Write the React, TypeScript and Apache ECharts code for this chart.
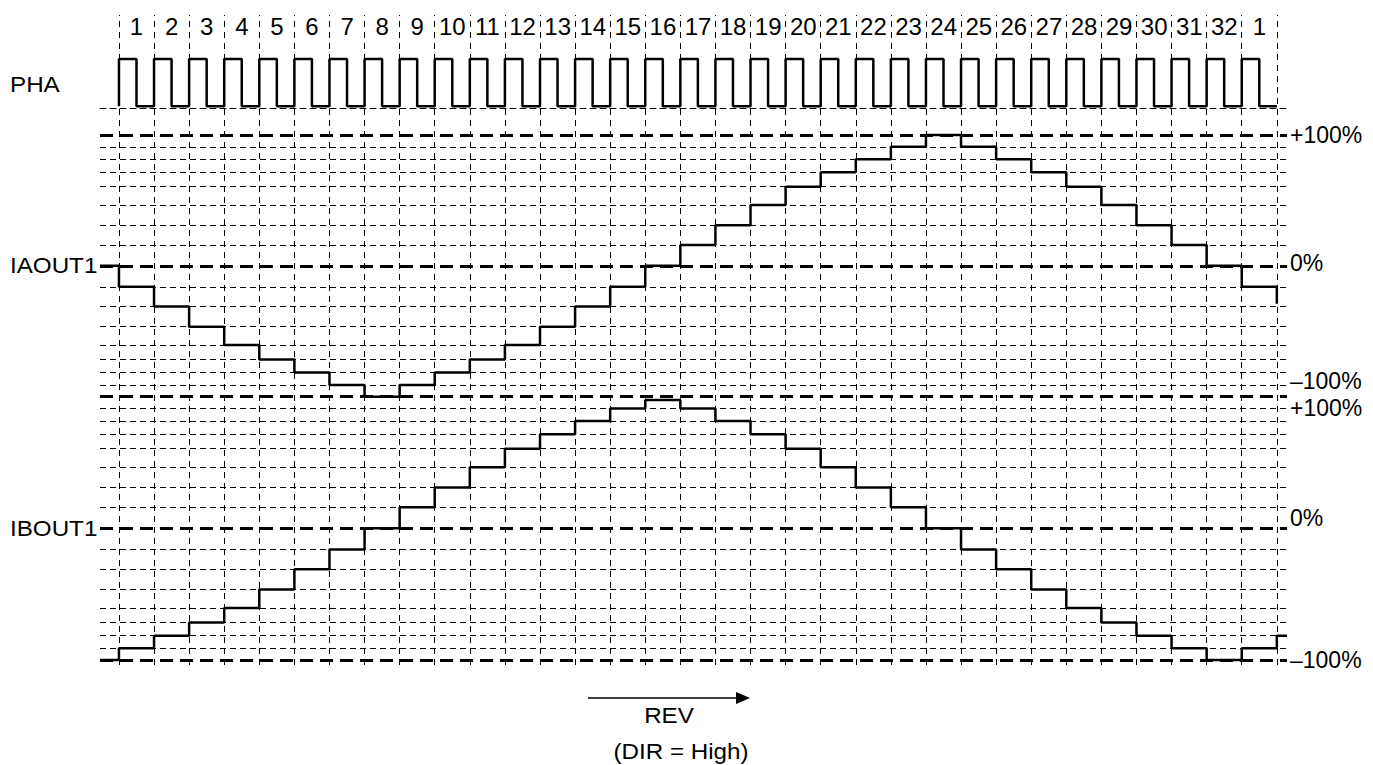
import React, { useEffect, useRef } from "react";
import * as echarts from "echarts";

// ---------- data ----------
const slotLabels = ["1", "2", "3", "4", "5", "6", "7", "8", "9", "10", "11", "12", "13", "14", "15", "16", "17", "18", "19", "20", "21", "22", "23", "24", "25", "26", "27", "28", "29", "30", "31", "32", "1"];
const slotBoundaries = [0, 1, 2, 3, 4, 5, 6, 7, 8, 9, 10, 11, 12, 13, 14, 15, 16, 17, 18, 19, 20, 21, 22, 23, 24, 25, 26, 27, 28, 29, 30, 31, 32, 33];

// PHA level at each half slot (high then low, 33 pulses)
const phaStart = 0;
const phaLevels = [
  1, 0, 1, 0, 1, 0, 1, 0, 1, 0, 1, 0, 1, 0, 1, 0, 1, 0, 1, 0, 1, 0,
  1, 0, 1, 0, 1, 0, 1, 0, 1, 0, 1, 0, 1, 0, 1, 0, 1, 0, 1, 0, 1, 0,
  1, 0, 1, 0, 1, 0, 1, 0, 1, 0, 1, 0, 1, 0, 1, 0, 1, 0, 1, 0, 1, 0,
];
const phaEnd = 0;

// IAOUT1 current (%) in each slot
const iaout1Start = 0;
const iaout1 = [-16, -31, -46.5, -60.5, -71.5, -81.5, -91, -100, -91, -81.5, -71.5, -60.5, -46.5, -31, -16, 0, 16, 31, 46.5, 60.5, 71.5, 81.5, 91, 100, 91, 81.5, 71.5, 60.5, 46.5, 31, 16, 0, -16];
const iaout1End = -29;

// IBOUT1 current (%) in each slot
const ibout1Start = -100;
const ibout1 = [-91, -81.5, -71.5, -60.5, -46.5, -31, -16, 0, 16, 31, 46.5, 60.5, 71.5, 81.5, 91, 97.5, 91, 81.5, 71.5, 60.5, 46.5, 31, 16, 0, -16, -31, -46.5, -60.5, -71.5, -81.5, -91, -100, -91];
const ibout1End = -81.5;

// dashed reference levels (%)
const minorLevels = [-91, -81.5, -71.5, -60.5, -46.5, -31, -16, 16, 31, 46.5, 60.5, 71.5, 81.5, 91];
const majorLevels = [-100, 0, 100];
const percentTicks = ["–100%", "0%", "+100%"];

// ---------- layout ----------
const W = 1373;
const H = 765;
const FONT = "'Liberation Sans', Arial, Helvetica, sans-serif";
const X_MIN = -0.54;
const X_MAX = 33.29;
const PLOT_LEFT = 100;
const PLOT_RIGHT = W - 1287;
const INK = "#000";

const lightLine = { color: INK, width: 1, type: [6, 4] as number[] };
const heavyLine = { color: INK, width: 3, type: [13, 7] as number[] };
const waveLine = { color: INK, width: 2.5 };

function hiddenValueAxis(gridIndex: number, min: number, max: number) {
  return {
    type: "value",
    gridIndex,
    min,
    max,
    show: false,
    splitLine: { show: false },
  };
}

function tickText(v: number) {
  if (v === 100) return percentTicks[2];
  if (v === 0) return percentTicks[1];
  return percentTicks[0];
}

function buildOption() {
  const last = slotBoundaries[slotBoundaries.length - 1];
  const phaData = [[0, phaStart], ...phaLevels.map((v, i) => [i * 0.5, v]), [last, phaEnd]];
  const iaData = [[X_MIN, iaout1Start], ...iaout1.map((v, i) => [slotBoundaries[i], v]), [last, iaout1End]];
  const ibData = [
    [X_MIN, ibout1Start],
    ...ibout1.map((v, i) => [slotBoundaries[i], v]),
    [last, ibout1End],
    [X_MAX, ibout1End],
  ];

  const levelLines = [
    ...minorLevels.map((v) => ({ yAxis: v, lineStyle: lightLine })),
    ...majorLevels.map((v) => ({ yAxis: v, lineStyle: heavyLine })),
  ];

  const labelStyle = { fontSize: 23, fontFamily: FONT, color: INK };

  return {
    animation: false,
    backgroundColor: "#fff",
    textStyle: { fontFamily: FONT },
    grid: [
      { left: PLOT_LEFT, right: PLOT_RIGHT, top: 15, height: 650 },
      { left: PLOT_LEFT, right: PLOT_RIGHT, top: 59, height: 49.7 },
      { left: PLOT_LEFT, right: PLOT_RIGHT, top: 135, height: 261.7 },
      { left: PLOT_LEFT, right: PLOT_RIGHT, top: 396.7, height: 263.3 },
      { left: 119, right: W - 1277, top: 42, height: 1 },
    ],
    xAxis: [
      hiddenValueAxis(0, X_MIN, X_MAX),
      {
        type: "value",
        gridIndex: 1,
        min: X_MIN,
        max: X_MAX,
        axisLine: { show: true, onZero: false, lineStyle: lightLine },
        axisTick: { show: false },
        axisLabel: { show: false },
        splitLine: { show: false },
      },
      hiddenValueAxis(2, X_MIN, X_MAX),
      hiddenValueAxis(3, X_MIN, X_MAX),
      {
        type: "category",
        gridIndex: 4,
        position: "top",
        data: slotLabels,
        boundaryGap: true,
        axisLine: { show: false },
        axisTick: { show: false },
        splitLine: { show: false },
        axisLabel: { interval: 0, margin: 4, fontSize: 24, fontFamily: FONT, color: INK },
      },
    ],
    yAxis: [
      hiddenValueAxis(0, 0, 1),
      hiddenValueAxis(1, -0.05, 1),
      {
        type: "value",
        gridIndex: 2,
        min: -100,
        max: 100,
        interval: 100,
        position: "right",
        axisLine: { show: false },
        axisTick: { show: false },
        splitLine: { show: false },
        axisLabel: {
          margin: 3,
          showMinLabel: true,
          showMaxLabel: true,
          ...labelStyle,
          formatter: (v: number) => {
            if (v === -100) return "{up|" + tickText(v) + "}\n{up| }";
            if (v === 0) return "{z|" + tickText(v) + "}\n{z| }";
            return "{n|" + tickText(v) + "}";
          },
          rich: {
            up: { ...labelStyle, lineHeight: 32 },
            z: { ...labelStyle, lineHeight: 6 },
            n: { ...labelStyle },
          },
        },
      },
      {
        type: "value",
        gridIndex: 3,
        min: -100,
        max: 100,
        interval: 100,
        position: "right",
        axisLine: { show: false },
        axisTick: { show: false },
        splitLine: { show: false },
        axisLabel: {
          margin: 3,
          showMinLabel: true,
          showMaxLabel: true,
          ...labelStyle,
          formatter: (v: number) => {
            if (v === 100) return "{dn| }\n{dn|" + tickText(v) + "}";
            if (v === 0) return "{z|" + tickText(v) + "}\n{z| }";
            return "{n|" + tickText(v) + "}";
          },
          rich: {
            dn: { ...labelStyle, lineHeight: 22 },
            z: { ...labelStyle, lineHeight: 20 },
            n: { ...labelStyle },
          },
        },
      },
      hiddenValueAxis(4, 0, 1),
    ],
    series: [
      {
        type: "line",
        xAxisIndex: 0,
        yAxisIndex: 0,
        data: [],
        silent: true,
        z: 1,
        markLine: {
          silent: true,
          symbol: ["none", "none"],
          label: { show: false },
          lineStyle: { ...lightLine, type: [6, 5] },
          data: slotBoundaries.map((b) => ({ xAxis: b })),
        },
      },
      {
        type: "line",
        xAxisIndex: 4,
        yAxisIndex: 4,
        data: [],
        silent: true,
      },
      {
        type: "line",
        xAxisIndex: 2,
        yAxisIndex: 2,
        data: [],
        silent: true,
        z: 2,
        markLine: {
          silent: true,
          symbol: ["none", "none"],
          label: { show: false },
          data: levelLines,
        },
      },
      {
        type: "line",
        xAxisIndex: 3,
        yAxisIndex: 3,
        data: [],
        silent: true,
        z: 2,
        markLine: {
          silent: true,
          symbol: ["none", "none"],
          label: { show: false },
          data: levelLines,
        },
      },
      {
        name: "PHA",
        type: "line",
        xAxisIndex: 1,
        yAxisIndex: 1,
        step: "end",
        showSymbol: false,
        symbol: "none",
        clip: false,
        z: 5,
        lineStyle: waveLine,
        data: phaData,
      },
      {
        name: "IAOUT1",
        type: "line",
        xAxisIndex: 2,
        yAxisIndex: 2,
        step: "end",
        showSymbol: false,
        symbol: "none",
        clip: false,
        z: 5,
        lineStyle: waveLine,
        data: iaData,
      },
      {
        name: "IBOUT1",
        type: "line",
        xAxisIndex: 3,
        yAxisIndex: 3,
        step: "end",
        showSymbol: false,
        symbol: "none",
        clip: false,
        z: 5,
        lineStyle: waveLine,
        data: ibData,
      },
    ],
    graphic: [
      { type: "text", x: 10, y: 84, scaleX: 1.1, style: { text: "PHA", fontSize: 22, fontFamily: FONT, fill: INK, align: "left", verticalAlign: "middle" } },
      { type: "text", x: 10, y: 265, scaleX: 1.1, style: { text: "IAOUT1", fontSize: 22, fontFamily: FONT, fill: INK, align: "left", verticalAlign: "middle" } },
      { type: "text", x: 10, y: 528, scaleX: 1.1, style: { text: "IBOUT1", fontSize: 22, fontFamily: FONT, fill: INK, align: "left", verticalAlign: "middle" } },
      { type: "line", shape: { x1: 588, y1: 698, x2: 740, y2: 698 }, style: { stroke: INK, lineWidth: 1.5 } },
      { type: "polygon", shape: { points: [[736, 692], [750, 698], [736, 704]] }, style: { fill: INK } },
      { type: "text", x: 669, y: 715, scaleX: 1.1, style: { text: "REV", fontSize: 22, fontFamily: FONT, fill: INK, align: "center", verticalAlign: "middle" } },
      { type: "text", x: 681, y: 751, scaleX: 1.1, style: { text: "(DIR = High)", fontSize: 22, fontFamily: FONT, fill: INK, align: "center", verticalAlign: "middle" } },
    ],
  };
}

export default function App() {
  const ref = useRef<HTMLDivElement>(null);
  useEffect(() => {
    if (!ref.current) return;
    const chart = echarts.init(ref.current, null, { renderer: "svg" });
    chart.setOption(buildOption() as any);
    return () => chart.dispose();
  }, []);
  return (
    <div
      ref={ref}
      style={{ position: "absolute", left: 0, top: 0, width: W, height: H, background: "#fff" }}
    />
  );
}
